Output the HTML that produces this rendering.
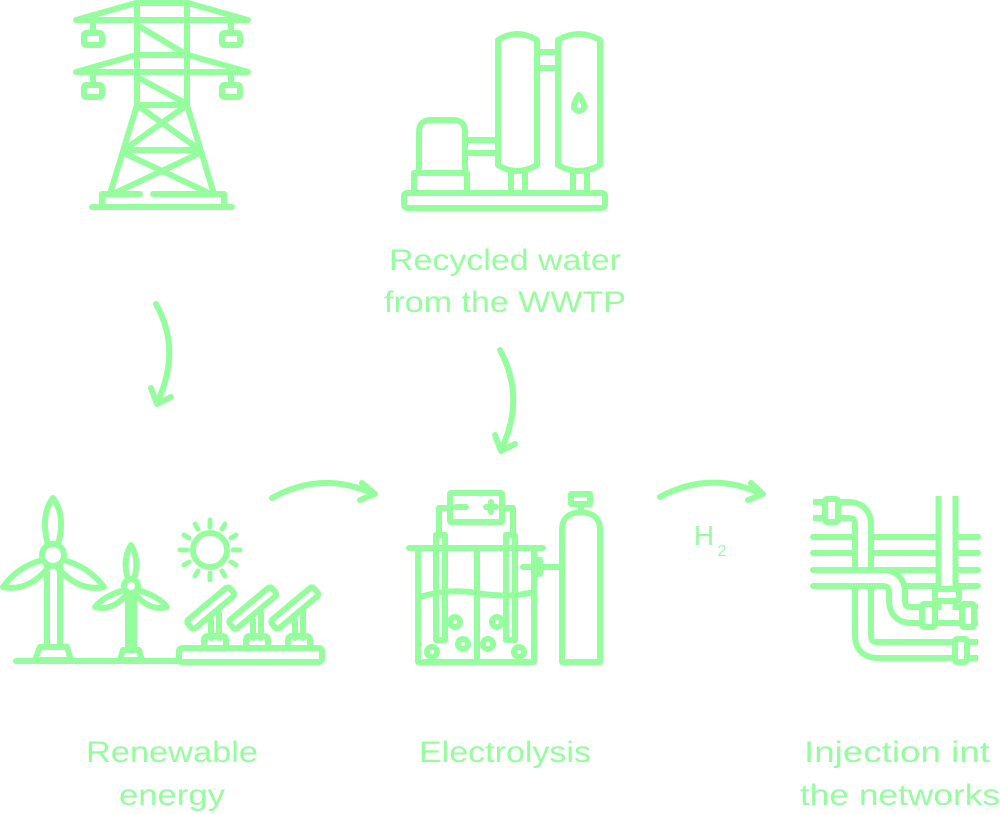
<!DOCTYPE html>
<html><head><meta charset="utf-8"><style>html,body{margin:0;padding:0;background:#fff}svg{display:block}</style></head>
<body>
<svg width="1000" height="814" viewBox="0 0 1000 814" xmlns="http://www.w3.org/2000/svg">
<g fill="none" stroke="#96fd9e" stroke-width="6" stroke-linecap="round" stroke-linejoin="round">
<!-- Tower -->
<path d="M76,20 L136,3 H188 L248,20 Z"/>
<path d="M76,72 L136,55 H188 L248,72 Z"/>
<path d="M137,3 V105 M187,3 V105"/>
<path d="M93,20 V32 M231,20 V32 M93,72 V84 M231,72 V84"/>
<rect x="84" y="33" width="18" height="12" rx="2"/>
<rect x="222" y="33" width="18" height="12" rx="2"/>
<rect x="84" y="85" width="18" height="12" rx="2"/>
<rect x="222" y="85" width="18" height="12" rx="2"/>
<path d="M137,25 L187,55 M137,77 L187,104"/>
<path d="M137,105 H187 M137,105 L110,194 M187,105 L214,194"/>
<path d="M124,150 H200 M137,105 L200,150 M187,105 L124,150"/>
<path d="M124,153 L211,194 M200,153 L113,194"/>
<path d="M102,194 H140 M153,194 H224 M102,194 V206 M224,194 V206 M92,207 H232"/>
<!-- Tanks -->
<rect x="404" y="193" width="201" height="15" rx="3"/>
<path d="M414,193 V173 H467 V193"/>
<path d="M419,173 V132 Q419,120 431,120 H453 Q465,120 465,132 V173"/>
<path d="M465,140 H498 M465,153 H498"/>
<path d="M498,40 Q517,28 537,40 V165 Q517,177 498,165 Z"/>
<path d="M558,40 Q579,28 600,40 V165 Q579,177 558,165 Z"/>
<path d="M538,52 H557 M538,68 H557"/>
<path d="M511,173 V193 M525,173 V193 M573,173 V193 M587,173 V193"/>
<path d="M579,95 Q573,104 574,108 Q579,114 584,108 Q585,104 579,95 Z"/>
<!-- Renewable -->
<path d="M16,661 H178"/>
<rect x="179" y="648" width="143" height="14" rx="3"/>
<circle cx="53" cy="555" r="11"/>
<path d="M47,566 V647 M60,566 V647 M40,647 H67 L71,660 H35 Z"/>
<path d="M48,545 Q40,515 53,498 Q66,515 58,545"/>
<path d="M43,560 Q18,566 3,587 Q28,592 48,568"/>
<path d="M63,560 Q88,566 104,587 Q79,592 58,568"/>
<circle cx="131" cy="586" r="7"/>
<path d="M128,593 V650 M134,593 V650 M123,650 H139 L142,660 H120 Z"/>
<path d="M128,579 Q122,560 131,545 Q140,560 134,579"/>
<path d="M125,590 Q105,595 95,607 Q112,612 128,593"/>
<path d="M137,590 Q157,595 167,607 Q150,612 134,593"/>
<circle cx="210" cy="550" r="17"/>
<g stroke-width="5">
<path d="M210,520 V527 M210,573 V580 M180,550 H187 M233,550 H240 M195,524 L198,529 M222,571 L225,576 M195,576 L198,571 M222,529 L225,524 M184,535 L189,538 M231,562 L236,565 M184,565 L189,562 M231,538 L236,535"/>
</g>
<g id="pn">
<rect x="183" y="603" width="55" height="11" rx="3" transform="rotate(-40 210 608)"/>
<path d="M211,620 V638 M219,613 V638 M204,647 V640 Q204,636 208,636 H222 Q226,636 226,640 V647"/>
</g>
<use href="#pn" x="42"/>
<use href="#pn" x="84"/>
<!-- Electrolysis -->
<rect x="450" y="493" width="52" height="29" rx="1"/>
<path d="M456,507 H466 M486,507 H496 M491,502 V512"/>
<path d="M450,508 H439 V534 M502,508 H513 V534"/>
<rect x="436" y="535" width="9" height="105"/>
<rect x="506" y="535" width="9" height="105"/>
<path d="M409,548 H543"/>
<path d="M418,548 V662 H534 V548 M477,548 V662"/>
<path d="M420,597 Q448,588 477,593 Q505,598 530,593"/>
<circle cx="432" cy="652" r="5"/><circle cx="455" cy="622" r="5"/><circle cx="463" cy="644" r="5"/>
<circle cx="488" cy="644" r="5"/><circle cx="497" cy="622" r="5"/><circle cx="519" cy="652" r="5"/>
<path d="M523,567 H560 M534,560 H540 V564 M534,574 H540 V570"/>
<path d="M562,662 V530 Q562,513 581,512 Q600,513 600,530 V662 Z"/>
<rect x="571" y="494" width="19" height="10"/>
<path d="M581,505 V511"/>
<!-- Pipes -->
<path d="M813,537 H978 M813,553 H978 M813,570 H978 M813,586 H978"/>
</g>
<g fill="none" stroke-linecap="butt" stroke-linejoin="round">
<path d="M813,510 H848 Q863,510 863,525 V635 Q863,650 878,650 H978" stroke="#96fd9e" stroke-width="22"/>
<path d="M810,510 H848 Q863,510 863,525 V635 Q863,650 878,650 H981" stroke="#fff" stroke-width="10"/>
<path d="M813,578 H882 Q897,578 897,593 V600 Q897,615 912,615 H978" stroke="#96fd9e" stroke-width="22"/>
<path d="M810,578 H882 Q897,578 897,593 V600 Q897,615 912,615 H981" stroke="#fff" stroke-width="10"/>
<path d="M947,496 V605" stroke="#96fd9e" stroke-width="23"/>
<path d="M947,490 V612" stroke="#fff" stroke-width="11"/>
</g>
<g fill="#fff" stroke="#96fd9e" stroke-width="6" stroke-linejoin="round">
<rect x="825" y="499" width="13" height="23" rx="2"/>
<rect x="935" y="589" width="24" height="12" rx="2"/>
<rect x="922" y="604" width="13" height="23" rx="2"/>
<rect x="962" y="604" width="12" height="23" rx="2"/>
<rect x="955" y="639" width="12" height="23" rx="2"/>
</g>
<!-- Arrows -->
<g fill="none" stroke="#96fd9e" stroke-width="6" stroke-linecap="round" stroke-linejoin="round">
<path d="M156,304 Q182,350 157,403 M151,388 L157,404 L171,397"/>
<path d="M500,350 Q526,398 501,450 M495,435 L501,451 L515,444"/>
<path d="M272,498 Q322,470 374,494 M362,483 L375,494 L360,500"/>
<path d="M660,497 Q710,470 762,494 M751,483 L763,494 L748,500"/>
</g>
<g fill="#96fd9e" font-family="'Liberation Sans', sans-serif" font-size="30" text-anchor="middle">
<text x="505" y="270" textLength="232" lengthAdjust="spacingAndGlyphs">Recycled water</text>
<text x="505" y="312" textLength="242" lengthAdjust="spacingAndGlyphs">from the WWTP</text>
<text x="172" y="762" textLength="172" lengthAdjust="spacingAndGlyphs">Renewable</text>
<text x="172" y="805" textLength="106" lengthAdjust="spacingAndGlyphs">energy</text>
<text x="505" y="762" textLength="172" lengthAdjust="spacingAndGlyphs">Electrolysis</text>
<text x="897" y="762" textLength="186" lengthAdjust="spacingAndGlyphs">Injection int</text>
<text x="900" y="805" textLength="200" lengthAdjust="spacingAndGlyphs">the networks</text>
<text x="704" y="545" font-size="28">H</text>
<text x="722" y="556" font-size="16">2</text>
</g>
</svg>
</body></html>
